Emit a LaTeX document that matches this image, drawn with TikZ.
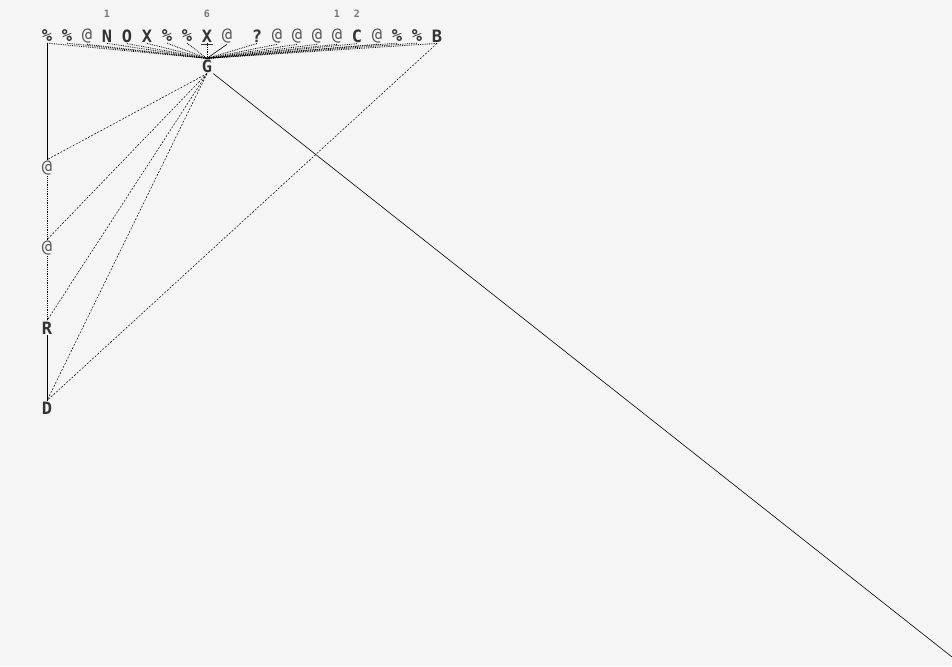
\documentclass[tikz,border=0pt]{standalone}
\usepackage{fontspec}
\setmonofont{DejaVu Sans Mono}
\definecolor{bg}{HTML}{F5F5F5}
\definecolor{txt}{HTML}{333333}
\definecolor{sym}{HTML}{555555}
\definecolor{idx}{HTML}{777777}
\begin{document}
\begin{tikzpicture}[x=1pt,y=-1pt,
  ch/.style={font=\ttfamily\bfseries\fontsize{17}{17}\selectfont,text=txt,inner sep=1pt,anchor=center},
  sy/.style={font=\ttfamily\fontsize{17}{17}\selectfont,text=sym,inner sep=1pt,anchor=center},
  ix/.style={font=\ttfamily\bfseries\fontsize{10}{10}\selectfont,text=idx,inner sep=0pt},
  dl/.style={densely dotted,line width=0.8pt},
  sl/.style={line width=0.6pt},
  dsh/.style={dash pattern=on 2pt off 1.5pt,line width=0.5pt}]
\fill[bg] (0,0) rectangle (952,666);
\useasboundingbox (0,0) rectangle (952,666);
% top row
\node[ch] (t1) at (47,36) {\%};
\node[ch] (t2) at (67,36) {\%};
\node[sy] (t3) at (87,36) {@};
\node[ch] (t4) at (107,36) {N};
\node[ch] (t5) at (127,36) {O};
\node[ch] (t6) at (147,36) {X};
\node[ch] (t7) at (167,36) {\%};
\node[ch] (t8) at (187,36) {\%};
\node[ch] (t9) at (207,36) {X};
\node[sy] (t10) at (227,36) {@};
\node[ch] (t11) at (257,36) {?};
\node[sy] (t12) at (277,36) {@};
\node[sy] (t13) at (297,36) {@};
\node[sy] (t14) at (317,36) {@};
\node[sy] (t15) at (337,36) {@};
\node[ch] (t16) at (357,36) {C};
\node[sy] (t17) at (377,36) {@};
\node[ch] (t18) at (397,36) {\%};
\node[ch] (t19) at (417,36) {\%};
\node[ch] (t20) at (437,36) {B};
\draw[sl,txt] ([xshift=-6pt,yshift=-0.5pt]t9.south) -- ([xshift=6pt,yshift=-0.5pt]t9.south);
% indices
\node[ix] (i1) at (107,14) {1};
\node[ix] (i2) at (207,14) {6};
\node[ix] (i3) at (337,14) {1};
\node[ix] (i4) at (357,14) {2};
% G and left column
\node[ch] (G) at (207,66) {G};
\node[sy] (a1) at (47,168) {@};
\node[sy] (a2) at (47,248) {@};
\node[ch] (R) at (47,328) {R};
\node[ch] (D) at (47,408) {D};
\coordinate (E) at (952,657);
% top fan
\foreach \i in {1,2,3,4,5,6,7,8,9,11,12,13,14,15,16,17,18,19,20}
  \draw[dl] (t\i.south) -- (G.north);
\draw[sl] (t10.south) -- (G.north);
% left column
\draw[sl] (t1.south) -- (a1.north);
\draw[dl] (a1.south) -- (a2.north);
\draw[dl] (a2.south) -- (R.north);
\draw[sl] (R.south) -- (D.north);
% dashed from G
\draw[dsh] (G.south) -- (a1.north);
\draw[dsh] (G.south) -- (a2.north);
\draw[dsh] (G.south) -- (R.north);
\draw[dsh] (G.south) -- (D.north);
\draw[dsh] (t20.south) -- (D.north);
% long line
\draw[sl] (G.south east) -- (E);
\end{tikzpicture}
\end{document}
